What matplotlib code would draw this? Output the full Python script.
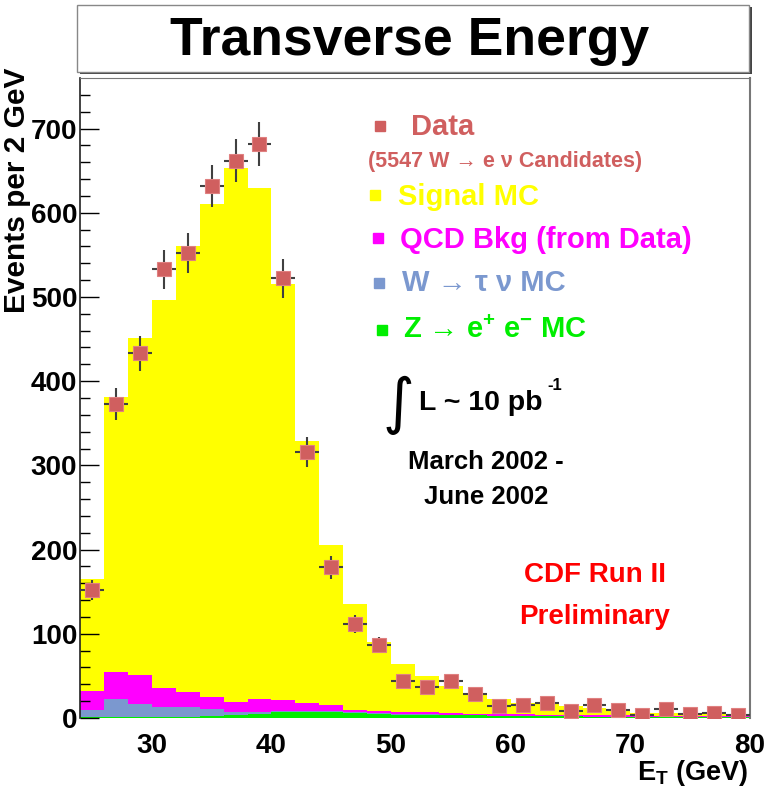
import matplotlib
matplotlib.use("Agg")
import matplotlib.pyplot as plt
import numpy as np
from matplotlib.patches import Rectangle

plt.rcParams["font.family"] = ["Liberation Sans", "DejaVu Sans"]
plt.rcParams["font.weight"] = "bold"
plt.rcParams["mathtext.fontset"] = "custom"
plt.rcParams["mathtext.rm"] = "Liberation Sans:bold"
plt.rcParams["mathtext.bf"] = "Liberation Sans:bold"

# 2 GeV bins from 24 to 80 GeV
bin_edges = np.arange(24, 82, 2)
bin_centers = bin_edges[:-1] + 1

data_counts = [152, 373, 433, 533, 552, 632, 662, 682, 522, 316, 179, 112, 87, 44,
               37, 44, 28, 14, 16, 18, 8, 15, 9, 4, 11, 5, 6, 4]
signal_mc = [133, 326.5, 400.5, 460.5, 530, 585.3, 634, 606.3, 493.5, 311, 189, 125.2,
             82, 56.5, 43, 31.6, 24.7, 18.2, 13.7, 13.3, 10.3, 8.3, 7.8, 3.8, 4.3, 2.9,
             2.9, 1.9]
qcd_bkg = [22.5, 32, 34, 23, 18, 14, 12, 16, 13, 10, 8, 3, 3, 3, 2.5, 2.5, 2, 2, 2,
           1.5, 1.5, 1.5, 1.5, 1, 1, 1, 1, 1]
w_tau_mc = [8.5, 21.5, 15.5, 11.5, 11.5, 8.7, 4, 2.3, 1.5, 1, 1, 0.8, 0.6, 0.5, 0.5,
            0.4, 0.3, 0.3, 0.3, 0.2, 0.2, 0.2, 0.2, 0.2, 0.1, 0.1, 0.1, 0.1]
z_ee_mc = [1, 1, 1, 1, 1.5, 2, 3, 4.4, 7, 7, 7, 6, 5, 4, 4, 3.5, 3, 2.5, 2, 2, 2, 1.5,
           1.5, 1, 1, 1, 1, 1]

YELLOW = "#ffff00"
MAGENTA = "#ff00ff"
BLUE = "#7b98cf"
GREEN = "#00ee00"
DATA_RED = "#d05f5f"

W, H = 766, 790


def fx(px):
    return px / W


def fy(py):
    return 1 - py / H


fig = plt.figure(figsize=(W / 100, H / 100), dpi=100)
fig.set_facecolor("white")
ax = fig.add_axes([fx(80), fy(718), fx(750) - fx(80), fy(78) - fy(718)])

# stacked histogram: draw cumulative totals, biggest first
z = np.array(z_ee_mc)
wt = z + np.array(w_tau_mc)
qcd = wt + np.array(qcd_bkg)
total = qcd + np.array(signal_mc)
for vals, col in [(total, YELLOW), (qcd, MAGENTA), (wt, BLUE), (z, GREEN)]:
    ax.stairs(vals, bin_edges, fill=True, baseline=0, color=col, linewidth=0)

data = np.array(data_counts)
ax.errorbar(bin_centers, data, xerr=1, yerr=np.sqrt(data), fmt="s", ms=10,
            mfc=DATA_RED, mec="#e08080", mew=0.8, ecolor="#404040",
            elinewidth=1.5, capsize=0, zorder=5)

ax.set_xlim(24, 80)
ax.set_ylim(0, 760)
ax.set_yticks(np.arange(0, 800, 100))
ax.set_yticks(np.arange(0, 760, 20), minor=True)
ax.set_xticks(np.arange(30, 90, 10))
ax.tick_params(axis="y", which="major", direction="in", length=14, width=1,
               labelsize=20, pad=2)
ax.tick_params(axis="y", which="minor", direction="in", length=7, width=1)
ax.tick_params(axis="x", which="major", length=0, labelsize=20, pad=11)
for lab in ax.get_xticklabels() + ax.get_yticklabels():
    lab.set_fontweight("bold")
ax.spines["left"].set_color("#222222")
ax.spines["left"].set_linewidth(1.2)
ax.spines["right"].set_color("#777777")
ax.spines["right"].set_linewidth(1.5)
ax.spines["top"].set_color("#777777")
ax.spines["bottom"].set_visible(False)

# axis titles
fig.text(fx(17), fy(68), "Events per 2 GeV", rotation=90, ha="center", va="top",
         fontsize=21.5, fontweight="bold")
fig.text(fx(748), fy(773), r"E$_{\mathbf{T}}$ (GeV)", ha="right", va="center",
         fontsize=19.5, fontweight="bold")

# title box with shadow
fig.patches.append(Rectangle((fx(80), fy(74)), fx(750) - fx(78), fy(5) - fy(72),
                             transform=fig.transFigure, facecolor="#444444",
                             edgecolor="none", zorder=9))
fig.patches.append(Rectangle((fx(77), fy(72)), fx(750) - fx(78), fy(5) - fy(72),
                             transform=fig.transFigure, facecolor="white",
                             edgecolor="#888888", linewidth=1, zorder=10))
fig.text(fx(410), fy(41), "Transverse Energy", ha="center", va="center",
         fontsize=38.5, fontweight="bold", zorder=11)

# legend
legend_items = [
    (380, 126, DATA_RED, 411, 127, "Data"),
    (375, 195, YELLOW, 398, 197, "Signal MC"),
    (378, 238, MAGENTA, 400, 240, "QCD Bkg (from Data)"),
    (379, 283, BLUE, 402, 283, "W \u2192 \u03c4 \u03bd MC"),
    (382, 330, GREEN, 403, 330, "Z \u2192 e$^{+}$ e$^{-}$ MC"),
]
for mx, my, col, tx, ty, label in legend_items:
    ax.plot([fx(mx)], [fy(my)], marker="s", ms=7, color=col, mec=col,
            transform=fig.transFigure, clip_on=False)
    fig.text(fx(tx), fy(ty), label, ha="left", va="center", fontsize=21,
             fontweight="bold", color=col)
fig.text(fx(505), fy(162), "(5547 W \u2192 e \u03bd Candidates)", ha="center",
         va="center", fontsize=15.5, fontweight="bold", color=DATA_RED)

# luminosity and dates
fig.text(fx(398), fy(405), "\u222b", ha="center", va="center", fontsize=44,
         fontweight="normal", family="DejaVu Sans")
fig.text(fx(419), fy(403), "L ~ 10 pb", ha="left", va="center", fontsize=20.5,
         fontweight="bold")
fig.text(fx(547), fy(386), "-1", ha="left", va="center", fontsize=12,
         fontweight="bold")
fig.text(fx(486), fy(462), "March 2002 -", ha="center", va="center", fontsize=18.5,
         fontweight="bold")
fig.text(fx(486), fy(497), "June 2002", ha="center", va="center", fontsize=18.5,
         fontweight="bold")
fig.text(fx(595), fy(575), "CDF Run II", ha="center", va="center", fontsize=20,
         fontweight="bold", color="#ff0000")
fig.text(fx(595), fy(617), "Preliminary", ha="center", va="center", fontsize=20,
         fontweight="bold", color="#ff0000")

fig.savefig("out.png", dpi=100, facecolor="white")
